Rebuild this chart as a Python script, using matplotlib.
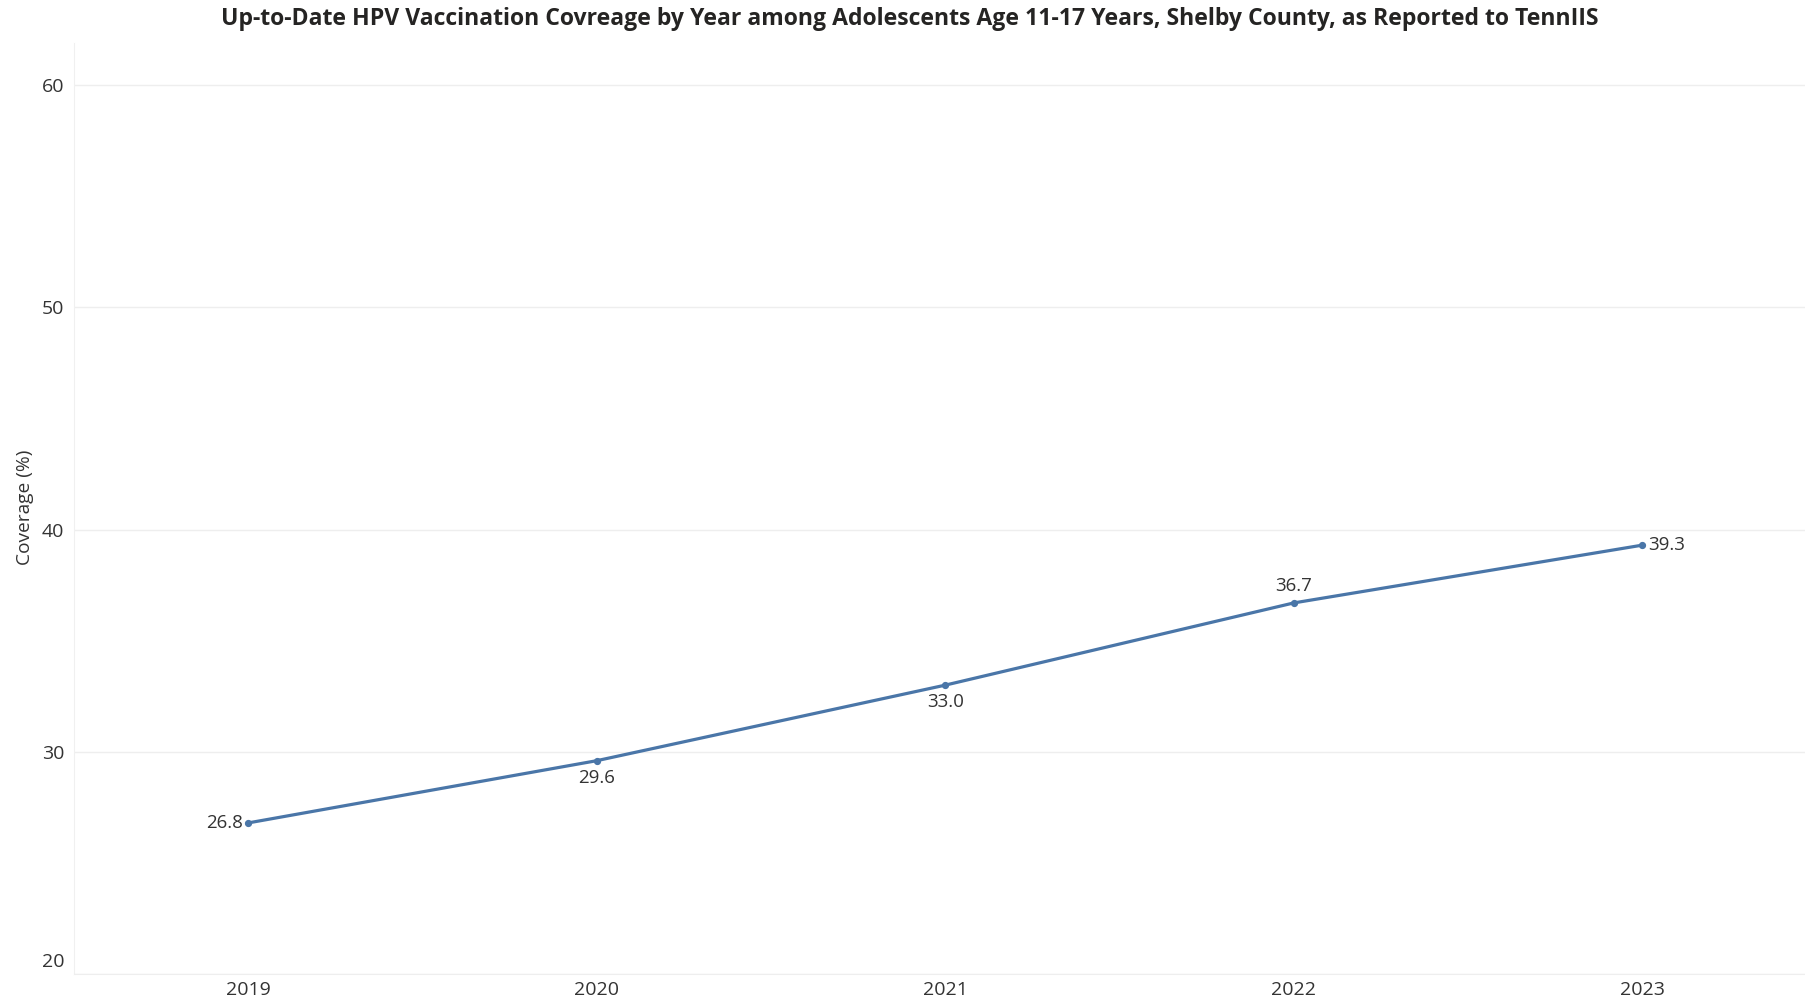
import matplotlib
matplotlib.use("Agg")
import matplotlib.pyplot as plt
import matplotlib.transforms as mtransforms

years = [2019, 2020, 2021, 2022, 2023]
coverage = [26.8, 29.6, 33.0, 36.7, 39.3]
label_pos = ["left", "below", "below", "above", "right"]
yticks = [20, 30, 40, 50, 60]

title = "Up-to-Date HPV Vaccination Covreage by Year among Adolescents Age 11-17 Years, Shelby County, as Reported to TennIIS"

plt.rcParams['font.family'] = ['Open Sans', 'DejaVu Sans']

W, H = 1806, 1002
fig = plt.figure(figsize=(W / 100, H / 100), dpi=100)
ax = fig.add_axes([74 / W, 1 - 974 / H, 1 - 74 / W, (974 - 43) / H])

line_color = "#4a76a8"
ax.plot(years, coverage, color=line_color, lw=2.3, marker="o", ms=4.2,
        solid_capstyle="round", zorder=3)

ax.set_xlim(2018.5, 2023.47)
ax.set_ylim(20, 61.9)

for x, y, p in zip(years, coverage, label_pos):
    txt = f"{y:.1f}"
    kw = dict(fontsize=13.5, color="#333333", textcoords="offset points")
    if p == "left":
        ax.annotate(txt, (x, y), xytext=(-4, 0), ha="right", va="center", **kw)
    elif p == "right":
        ax.annotate(txt, (x, y), xytext=(4, 0), ha="left", va="center", **kw)
    elif p == "below":
        ax.annotate(txt, (x, y), xytext=(0, -6), ha="center", va="top", **kw)
    else:
        ax.annotate(txt, (x, y), xytext=(0, 6), ha="center", va="bottom", **kw)

ax.set_yticks(yticks)
ax.set_xticks(years)
ax.set_xticklabels([str(y) for y in years])
ax.tick_params(axis="both", length=0, labelsize=14, labelcolor="#333333")
ax.tick_params(axis="y", pad=7)
ax.tick_params(axis="x", pad=5)
# bottom y tick label sits slightly above the axis as in the reference
lbls = ax.get_yticklabels()
lbls[0].set_transform(lbls[0].get_transform() + mtransforms.ScaledTranslation(0, 14 / 100, fig.dpi_scale_trans))

ax.grid(axis="y", color="#eeeeee", lw=1)
ax.set_axisbelow(True)
for s in ["top", "right"]:
    ax.spines[s].set_visible(False)
ax.spines["left"].set_color("#f0f0f0")
ax.spines["bottom"].set_color("#eeeeee")

fig.text(25 / W, 1 - 507 / H, "Coverage (%)", rotation=90, ha="center", va="center",
         fontsize=13.8, color="#333333")

fig.text(910 / W, 1 - 19 / H, title, ha="center", va="center",
         fontsize=16.6, fontweight="bold", color="#252423")

fig.savefig("out.png", dpi=100, facecolor="white")
